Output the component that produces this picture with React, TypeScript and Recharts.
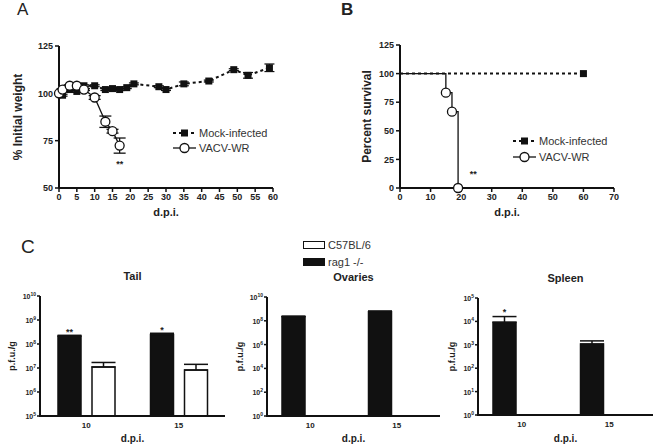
import React from "react";
import {
  LineChart,
  Line,
  XAxis,
  YAxis,
  ErrorBar,
  ReferenceDot,
  BarChart,
  Bar,
  LabelList,
} from "recharts";

const FONT = "'Liberation Sans', Arial, sans-serif";
const INK = "#111";
const TXT = "#222";

// panel A - body weight
const MOCK_WT_DAYS = [1, 3, 5, 7, 10, 13, 15, 17, 19, 21, 28, 30, 35, 42, 49, 53, 59];
const MOCK_WT = [99, 102, 101, 104, 104, 102, 102.5, 102, 103, 105, 103.5, 102, 105, 106.5, 112.5, 109.5, 113.5];
const MOCK_WT_ERR = [0.5, 0.5, 0.5, 0.5, 0.5, 0.5, 0.5, 0.5, 0.5, 0.5, 0.5, 0.5, 1, 0.5, 0.5, 1.5, 2];
const VACV_WT_DAYS = [0, 1, 3, 5, 7, 10, 13, 15, 17];
const VACV_WT = [100, 102, 104, 104, 102, 97.8, 85, 80, 72.4];
const VACV_WT_ERR = [0, 0.5, 0.5, 0.5, 0.5, 1, 3, 1, 4];
const WT_X_TICKS = [0, 5, 10, 15, 20, 25, 30, 35, 40, 45, 50, 55, 60];
const WT_Y_TICKS = [50, 75, 100, 125];

// panel B - survival
const MOCK_SURV_DAYS = [0, 60];
const MOCK_SURV = [100, 100];
const VACV_SURV_DAYS = [0, 15, 17, 19];
const VACV_SURV = [100, 83.3, 66.7, 0];
const SURV_X_TICKS = [0, 10, 20, 30, 40, 50, 60, 70];
const SURV_Y_TICKS = [0, 25, 50, 75, 100, 125];

// panel C - viral titres
const DPI = ["10", "15"];
const TAIL_RAG = [2.1e8, 2.5e8];
const TAIL_RAG_ERR = [2e7, 3e7];
const TAIL_B6 = [1.1e7, 8.2e6];
const TAIL_B6_ERR = [6e6, 6e6];
const TAIL_SIG = ["**", "*"];
const OVARY_RAG = [2.2e8, 5.9e8];
const OVARY_RAG_ERR = [3e7, 8e7];
const SPLEEN_RAG = [9.1e3, 1.07e3];
const SPLEEN_RAG_ERR = [7e3, 4e2];
const SPLEEN_SIG = ["*", ""];
const TAIL_TICKS = [1e5, 1e6, 1e7, 1e8, 1e9, 1e10];
const OVARY_TICKS = [1, 1e2, 1e4, 1e6, 1e8, 1e10];
const SPLEEN_TICKS = [1, 1e1, 1e2, 1e3, 1e4, 1e5];

const mockWt = MOCK_WT_DAYS.map((d, i) => ({ day: d, v: MOCK_WT[i], e: MOCK_WT_ERR[i] }));
const vacvWt = VACV_WT_DAYS.map((d, i) => ({ day: d, v: VACV_WT[i], e: VACV_WT_ERR[i] }));
const mockSurv = MOCK_SURV_DAYS.map((d, i) => ({ day: d, v: MOCK_SURV[i] }));
const vacvSurv = VACV_SURV_DAYS.map((d, i) => ({ day: d, v: VACV_SURV[i] }));

const tailRows = DPI.map((d, i) => ({
  dpi: d,
  rag: TAIL_RAG[i],
  ragErr: [0, TAIL_RAG_ERR[i]],
  b6: TAIL_B6[i],
  b6Err: [0, TAIL_B6_ERR[i]],
  sig: TAIL_SIG[i],
}));
const ovaryRows = DPI.map((d, i) => ({
  dpi: d,
  rag: OVARY_RAG[i],
  ragErr: [0, OVARY_RAG_ERR[i]],
  b6: null,
  b6Err: [0, 0],
  sig: "",
}));
const spleenRows = DPI.map((d, i) => ({
  dpi: d,
  rag: SPLEEN_RAG[i],
  ragErr: [0, SPLEEN_RAG_ERR[i]],
  b6: null,
  b6Err: [0, 0],
  sig: SPLEEN_SIG[i],
}));

const tickStyle = { fontSize: 9, fontWeight: 700, fill: TXT, fontFamily: FONT };

const Square = (p: any) => (
  <rect key={`sq-${p.index}`} x={p.cx - 3.5} y={p.cy - 3.5} width={7} height={7} fill={INK} />
);
const circleDot = { r: 4.5, fill: "#fff", stroke: INK, strokeWidth: 1.3 };

function LegendRows({ left, top, gap }: { left: number; top: number; gap: number }) {
  return (
    <svg
      width={110}
      height={gap + 16}
      style={{ position: "absolute", left, top, overflow: "visible" }}
    >
      <line x1={0} x2={23} y1={8} y2={8} stroke={INK} strokeWidth={2} strokeDasharray="3 3" />
      <rect x={8} y={4.5} width={7} height={7} fill={INK} />
      <text x={26} y={12} fontSize={11} fill="#333" fontFamily={FONT}>Mock-infected</text>
      <line x1={0} x2={23} y1={8 + gap} y2={8 + gap} stroke={INK} strokeWidth={1.3} />
      <circle cx={11.5} cy={8 + gap} r={4.5} fill="#fff" stroke={INK} strokeWidth={1.3} />
      <text x={26} y={12 + gap} fontSize={11} fill="#333" fontFamily={FONT}>VACV-WR</text>
    </svg>
  );
}

const PowTick = (p: any) => {
  const exp = Math.round(Math.log10(p.payload.value));
  return (
    <text x={p.x} y={p.y} dy={3} textAnchor="end" fontSize={7} fontWeight={700} fill={TXT} fontFamily={FONT}>
      10<tspan dy={-3} fontSize={5}>{exp}</tspan>
    </text>
  );
};

const yLabel = (value: string, offset: number, size: number) => ({
  value,
  angle: -90,
  position: "insideLeft" as const,
  offset,
  style: { textAnchor: "middle", fontSize: size, fontWeight: 700, fill: TXT, fontFamily: FONT },
});

const xLabel = (offset: number, size: number) => ({
  value: "d.p.i.",
  position: "insideBottom" as const,
  offset,
  style: { fontSize: size, fontWeight: 700, fill: TXT, fontFamily: FONT },
});

const C_TOP = 270;
const C_HEIGHT = 175;

function TissueChart(props: {
  rows: any[];
  title: string;
  left: number;
  width: number;
  yw: number;
  top: number;
  xh: number;
  domain: [number, number];
  ticks: number[];
  labelOffset: number;
  sigOffset: number;
}) {
  const plotLeft = props.left + props.yw;
  const plotRight = props.left + props.width - 5;
  const plotTop = C_TOP + props.top;
  const plotBottom = C_TOP + C_HEIGHT - props.xh;
  return (
    <>
      <div
        style={{
          position: "absolute",
          left: plotLeft,
          width: plotRight - plotLeft,
          top: plotTop - 26,
          textAlign: "center",
          fontFamily: FONT,
          fontWeight: 700,
          fontSize: 11,
          color: TXT,
        }}
      >
        {props.title}
      </div>
      <div style={{ position: "absolute", left: props.left, top: C_TOP }}>
        <BarChart
          width={props.width}
          height={C_HEIGHT}
          data={props.rows}
          margin={{ top: props.top, right: 5, bottom: 0, left: 0 }}
          barSize={23}
          barGap={11}
        >
          <XAxis
            dataKey="dpi"
            type="category"
            height={props.xh}
            tickLine={false}
            tickSize={3}
            tickMargin={3}
            axisLine={false}
            tick={{ ...tickStyle, fontSize: 8 }}
            label={xLabel(3, 10)}
          />
          <YAxis
            width={props.yw}
            type="number"
            scale="log"
            domain={props.domain}
            ticks={props.ticks}
            stroke={INK}
            tickSize={3}
            tickMargin={1}
            axisLine={false}
            tickLine={{ stroke: INK, strokeWidth: 1.5 }}
            tick={<PowTick />}
            label={yLabel("p.f.u./g", props.labelOffset, 9)}
          />
          <Bar dataKey="rag" fill={INK} stroke={INK} strokeWidth={1.5} isAnimationActive={false}>
            <ErrorBar dataKey="ragErr" width={12} stroke={INK} strokeWidth={1.5} direction="y" />
            <LabelList
              dataKey="sig"
              position="top"
              offset={props.sigOffset}
              style={{ fontSize: 9, fontWeight: 700, fill: TXT, fontFamily: FONT }}
            />
          </Bar>
          <Bar dataKey="b6" fill="#fff" stroke={INK} strokeWidth={1.5} isAnimationActive={false}>
            <ErrorBar dataKey="b6Err" width={12} stroke={INK} strokeWidth={1.5} direction="y" />
          </Bar>
        </BarChart>
      </div>
      {/* axis frame (left + bottom), same geometry as the chart's plot area */}
      <div
        style={{
          position: "absolute",
          left: plotLeft - 1,
          top: plotTop,
          width: plotRight - plotLeft + 1,
          height: plotBottom - plotTop + 1,
          borderLeft: `2px solid ${INK}`,
          borderBottom: `2px solid ${INK}`,
          boxSizing: "border-box",
          pointerEvents: "none",
        }}
      />
    </>
  );
}

export default function App() {
  return (
    <div
      style={{
        position: "absolute",
        left: 0,
        top: 0,
        width: 658,
        height: 446,
        background: "#fff",
        overflow: "hidden",
        fontFamily: FONT,
      }}
    >
      <div style={{ position: "absolute", left: 17, top: 0, fontSize: 17, color: TXT, fontFamily: FONT }}>A</div>
      <div style={{ position: "absolute", left: 341, top: 0, fontSize: 17, fontWeight: 700, color: TXT, fontFamily: FONT }}>B</div>
      <div style={{ position: "absolute", left: 21, top: 236, fontSize: 19, color: TXT, fontFamily: FONT }}>C</div>

      {/* A: weight */}
      <div style={{ position: "absolute", left: 0, top: 0 }}>
        <LineChart width={300} height={220} margin={{ top: 46, right: 27, bottom: 0, left: 0 }}>
          <XAxis
            dataKey="day"
            type="number"
            domain={[0, 60]}
            ticks={WT_X_TICKS}
            height={32}
            stroke={INK}
            tickSize={4}
            tickMargin={2}
            axisLine={{ stroke: INK, strokeWidth: 2 }}
            tickLine={{ stroke: INK, strokeWidth: 1.5 }}
            tick={tickStyle}
            allowDuplicatedCategory={false}
            label={xLabel(4, 11)}
          />
          <YAxis
            type="number"
            domain={[50, 125]}
            ticks={WT_Y_TICKS}
            width={59}
            stroke={INK}
            tickSize={4}
            tickMargin={2}
            axisLine={{ stroke: INK, strokeWidth: 2 }}
            tickLine={{ stroke: INK, strokeWidth: 1.5 }}
            tick={tickStyle}
            label={yLabel("% Initial weight", 18, 12)}
          />
          <Line
            data={mockWt}
            dataKey="v"
            stroke={INK}
            strokeWidth={2}
            strokeDasharray="3 3"
            dot={Square}
            isAnimationActive={false}
          >
            <ErrorBar dataKey="e" width={5} stroke={INK} strokeWidth={1.2} direction="y" />
          </Line>
          <Line
            data={vacvWt}
            dataKey="v"
            stroke={INK}
            strokeWidth={1.3}
            dot={circleDot}
            isAnimationActive={false}
          >
            <ErrorBar dataKey="e" width={6} stroke={INK} strokeWidth={1.3} direction="y" />
          </Line>
          <ReferenceDot
            x={17}
            y={63}
            r={0}
            fill="none"
            stroke="none"
            label={{ value: "**", position: "center", fontSize: 9, fontWeight: 700, fill: TXT }}
          />
        </LineChart>
      </div>
      <LegendRows left={173} top={125} gap={15} />

      {/* B: survival */}
      <div style={{ position: "absolute", left: 330, top: 0 }}>
        <LineChart width={300} height={220} margin={{ top: 45, right: 16, bottom: 0, left: 0 }}>
          <XAxis
            dataKey="day"
            type="number"
            domain={[0, 70]}
            ticks={SURV_X_TICKS}
            height={32}
            stroke={INK}
            tickSize={4}
            tickMargin={2}
            axisLine={{ stroke: INK, strokeWidth: 2 }}
            tickLine={{ stroke: INK, strokeWidth: 1.5 }}
            tick={tickStyle}
            label={xLabel(4, 11)}
          />
          <YAxis
            type="number"
            domain={[0, 125]}
            ticks={SURV_Y_TICKS}
            width={70}
            stroke={INK}
            tickSize={4}
            tickMargin={2}
            axisLine={{ stroke: INK, strokeWidth: 2 }}
            tickLine={{ stroke: INK, strokeWidth: 1.5 }}
            tick={tickStyle}
            label={yLabel("Percent survival", 37, 12)}
          />
          <Line
            data={mockSurv}
            dataKey="v"
            stroke={INK}
            strokeWidth={2}
            strokeDasharray="3 3"
            dot={(p: any) =>
              p.index === MOCK_SURV.length - 1 ? <Square key="ms" {...p} /> : <g key={`mg-${p.index}`} />
            }
            isAnimationActive={false}
          />
          <Line
            data={vacvSurv}
            dataKey="v"
            type="stepAfter"
            stroke={INK}
            strokeWidth={1.3}
            dot={(p: any) =>
              p.index === 0 ? (
                <g key="vg0" />
              ) : (
                <circle key={`vc-${p.index}`} cx={p.cx} cy={p.cy} r={4.5} fill="#fff" stroke={INK} strokeWidth={1.3} />
              )
            }
            isAnimationActive={false}
          />
          <ReferenceDot
            x={24}
            y={12}
            r={0}
            fill="none"
            stroke="none"
            label={{ value: "**", position: "center", fontSize: 9, fontWeight: 700, fill: TXT }}
          />
        </LineChart>
      </div>
      <LegendRows left={513} top={133} gap={16} />

      {/* C: shared legend */}
      <div style={{ position: "absolute", left: 303, top: 236, fontFamily: FONT, fontSize: 11, color: "#333" }}>
        <div style={{ display: "flex", alignItems: "center", height: 17 }}>
          <span style={{ display: "inline-block", width: 20, height: 6, border: `1.3px solid ${INK}`, background: "#fff", marginRight: 3 }} />
          C57BL/6
        </div>
        <div style={{ display: "flex", alignItems: "center", height: 17 }}>
          <span style={{ display: "inline-block", width: 22, height: 8, background: INK, marginRight: 3 }} />
          rag1 -/-
        </div>
      </div>

      <TissueChart rows={tailRows} title="Tail" left={0} width={230} yw={40} top={26} xh={29}
        domain={[1e5, 1e10]} ticks={TAIL_TICKS} labelOffset={12} sigOffset={1} />
      <TissueChart rows={ovaryRows} title="Ovaries" left={220} width={225} yw={47} top={27} xh={29}
        domain={[1, 1e10]} ticks={OVARY_TICKS} labelOffset={20} sigOffset={1} />
      <TissueChart rows={spleenRows} title="Spleen" left={430} width={228} yw={48} top={28} xh={30}
        domain={[1, 1e5]} ticks={SPLEEN_TICKS} labelOffset={22} sigOffset={7} />
    </div>
  );
}
